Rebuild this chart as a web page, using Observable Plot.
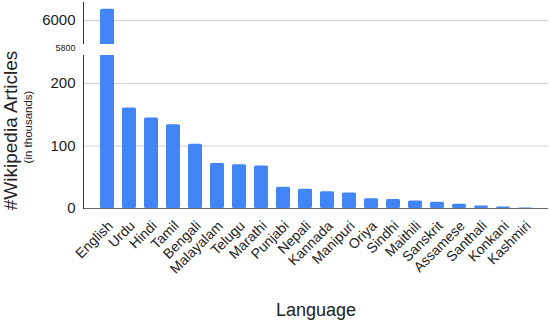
<!DOCTYPE html>
<html><head><meta charset="utf-8">
<script src="https://cdn.jsdelivr.net/npm/d3@7"></script>
<script src="https://cdn.jsdelivr.net/npm/@observablehq/plot@0.6"></script>
<style>
body{margin:0;background:#fff}
svg{font-family:"Liberation Sans",Arial,sans-serif}
</style>
</head><body><div id="chart"></div>
<script>
const languages = ["English","Urdu","Hindi","Tamil","Bengali","Malayalam","Telugu","Marathi","Punjabi","Nepali","Kannada","Manipuri","Oriya","Sindhi","Maithili","Sanskrit","Assamese","Santhali","Konkani","Kashmiri"];
const articles = [6080, 161, 145, 134, 103, 72, 70, 68, 34, 31, 27, 25, 15.5, 14.5, 12, 10, 7, 4, 2.6, 0.8];
const yTicks = [0, 100, 200, 6000];
const gridTicks = [100, 200, 6000];
const breakTick = [5800];
const yDomain = [0, 245, 5829, 6129];
const gapBand = [{y1: 245, y2: 5829}];
const xTitle = ["Language"];
const yTitle = ["#Wikipedia Articles"];
const ySubtitle = ["(in thousands)"];

const data = languages.map((l, i) => ({language: l, articles: articles[i]}));

const chart = Plot.plot({
  width: 550, height: 320,
  marginLeft: 83, marginRight: 2, marginTop: 2, marginBottom: 112,
  style: {fontFamily: "'Liberation Sans', Arial, sans-serif", color: "#222", background: "white"},
  x: {domain: languages, paddingInner: 0.37, paddingOuter: 0.33, label: null},
  y: {type: "linear", domain: yDomain, range: [208, 55, 44, 2], label: null},
  marks: [
    Plot.gridY(gridTicks, {stroke: "#d0d0d0", strokeOpacity: 1}),
    Plot.barY(data, {x: "language", y: "articles", fill: "#4285F4", rx: 1.5}),
    Plot.ruleY([0], {stroke: "#666", strokeWidth: 1.2}),
    Plot.frame({anchor: "left", stroke: "#333"}),
    Plot.rect(gapBand, {y1: "y1", y2: "y2", fill: "white", insetLeft: -4}),
    Plot.axisY(yTicks, {tickSize: 0, tickPadding: 8, fontSize: 15, tickFormat: d3.format("d"), label: null}),
    Plot.axisY(breakTick, {tickSize: 0, tickPadding: 8, fontSize: 9, dy: 4, tickFormat: d3.format("d"), label: null}),
    Plot.axisX({tickSize: 0, tickPadding: 15, dx: 3, tickRotate: -45, fontSize: 14, label: null}),
    Plot.text(xTitle, {text: d => d, frameAnchor: "bottom", dy: 107, fontSize: 18, fill: "#222"}),
    Plot.text(yTitle, {text: d => d, frameAnchor: "left", textAnchor: "middle", rotate: -90, dx: -73, dy: 25, fontSize: 19, fill: "#222"}),
    Plot.text(ySubtitle, {text: d => d, frameAnchor: "left", textAnchor: "middle", rotate: -90, dx: -55, dy: 21.5, fontSize: 11.5, fill: "#222"})
  ]
});
document.getElementById("chart").append(chart);
</script>
</body></html>
